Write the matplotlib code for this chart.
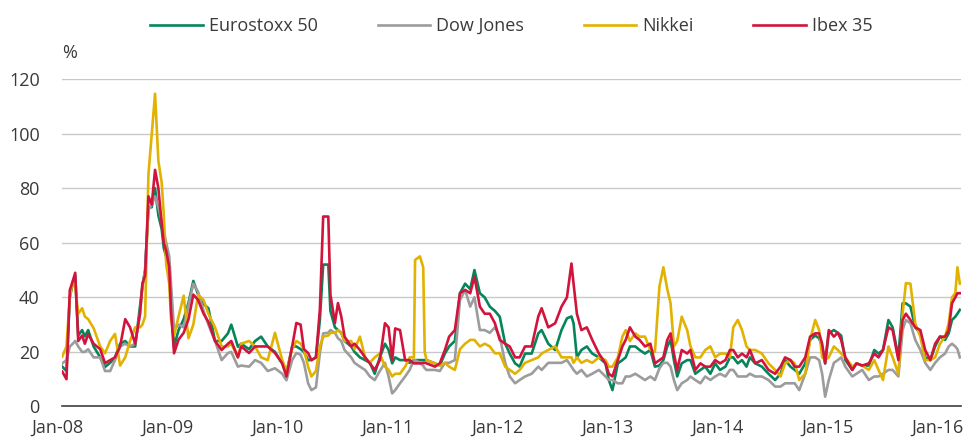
import matplotlib
matplotlib.use("Agg")
import matplotlib.pyplot as plt
import matplotlib.dates as mdates
import matplotlib.transforms as mtransforms
import pandas as pd

# approximate volatility readings (%) taken off the reference chart
dates = [
    # 2008
    '2008-01-02', '2008-01-16', '2008-01-27', '2008-02-06', '2008-02-14', '2008-02-24',
    '2008-03-08', '2008-03-17', '2008-03-28', '2008-04-15', '2008-05-07', '2008-05-23',
    '2008-06-09', '2008-06-25', '2008-07-12', '2008-07-29', '2008-08-14', '2008-08-31',
    '2008-09-16', '2008-09-24', '2008-10-03', '2008-10-14', '2008-10-25', '2008-11-05',
    '2008-11-16', '2008-11-27', '2008-12-04', '2008-12-12', '2008-12-22', '2008-12-28',
    # 2009
    '2009-01-07', '2009-01-22', '2009-02-08', '2009-02-24', '2009-03-12', '2009-03-28',
    '2009-04-15', '2009-05-01', '2009-05-23', '2009-06-14', '2009-07-05', '2009-07-16',
    '2009-08-07', '2009-08-18', '2009-09-13', '2009-10-03', '2009-10-23', '2009-11-14',
    '2009-12-08',
    # 2010
    '2010-01-01', '2010-01-15', '2010-02-03', '2010-02-17', '2010-03-03', '2010-03-14',
    '2010-03-28', '2010-04-08', '2010-04-23', '2010-05-06', '2010-05-17', '2010-06-03',
    '2010-06-10', '2010-06-25', '2010-07-05', '2010-07-16', '2010-07-27', '2010-08-18',
    '2010-08-29', '2010-09-16', '2010-10-03', '2010-10-19', '2010-11-04', '2010-11-21',
    '2010-12-08', '2010-12-20',
    # 2011
    '2011-01-01', '2011-01-11', '2011-01-27', '2011-02-13', '2011-02-28', '2011-03-14',
    '2011-03-18', '2011-04-03', '2011-04-14', '2011-04-19', '2011-04-25', '2011-05-23',
    '2011-06-08', '2011-06-25', '2011-07-09', '2011-07-28', '2011-08-14', '2011-08-31',
    '2011-09-17', '2011-10-01', '2011-10-19', '2011-11-04', '2011-11-21', '2011-12-08',
    '2011-12-24',
    # 2012
    '2012-01-11', '2012-01-26', '2012-02-13', '2012-02-28', '2012-03-17', '2012-04-08',
    '2012-04-30', '2012-05-11', '2012-06-02', '2012-06-25', '2012-07-16', '2012-08-03',
    '2012-08-18', '2012-08-25', '2012-09-05', '2012-09-20', '2012-10-08', '2012-10-26',
    '2012-11-17', '2012-12-09', '2012-12-20',
    # 2013
    '2013-01-01', '2013-01-19', '2013-02-03', '2013-02-14', '2013-02-28', '2013-03-18',
    '2013-04-01', '2013-04-19', '2013-05-07', '2013-05-22', '2013-06-06', '2013-06-19',
    '2013-07-02', '2013-07-13', '2013-07-24', '2013-08-04', '2013-08-19', '2013-09-06',
    '2013-09-17', '2013-10-03', '2013-10-20', '2013-11-05', '2013-11-22', '2013-12-08',
    '2013-12-24',
    # 2014
    '2014-01-11', '2014-01-26', '2014-02-06', '2014-02-21', '2014-03-07', '2014-03-22',
    '2014-04-02', '2014-04-20', '2014-05-12', '2014-06-03', '2014-06-25', '2014-07-13',
    '2014-07-28', '2014-08-15', '2014-08-29', '2014-09-13', '2014-10-03', '2014-10-19',
    '2014-11-05', '2014-11-18', '2014-11-28', '2014-12-08', '2014-12-20',
    # 2015
    '2015-01-06', '2015-01-19', '2015-01-30', '2015-02-13', '2015-03-08', '2015-03-22',
    '2015-04-10', '2015-05-02', '2015-05-20', '2015-06-03', '2015-06-18', '2015-07-06',
    '2015-07-20', '2015-08-08', '2015-08-22', '2015-09-02', '2015-09-17', '2015-10-03',
    '2015-10-20', '2015-11-05', '2015-11-22', '2015-12-08', '2015-12-24',
    # 2016
    '2016-01-10', '2016-01-22', '2016-02-02', '2016-02-13', '2016-02-20', '2016-02-28',
]

eurostoxx = [
    14.6, 13, 40, 45, 48, 26, 28, 25.7, 28, 22, 18, 14.5,
    16, 18, 23, 24, 22, 22, 36.6, 44, 50, 73, 73, 80,
    70, 65, 58, 55, 53, 38,
    22, 28, 32, 38, 46, 41, 37.5, 36, 24, 24, 26.8, 30,
    21.9, 23, 21, 24, 25.6, 22, 20,
    15.8, 12, 22, 22, 21, 20, 17, 17, 18, 31.7, 52, 52,
    35, 29, 28, 27, 24, 22, 20, 18, 17, 16, 12, 18,
    23, 20.7,
    15.8, 18, 17, 17, 16, 17, 17, 17, 17, 17, 17, 15.8,
    15, 19.4, 22, 24, 41.5, 45, 43, 50, 41.5, 40, 36.6, 35,
    32.9,
    23, 19.4, 15.8, 14.6, 19.4, 19.4, 26.8, 28, 23, 20.7, 28, 32.3,
    33, 30.5, 18, 20.7, 22, 19.4, 18, 15.8, 9.7,
    6, 15.8, 17, 18, 22, 22, 20.7, 19.4, 20.7, 14.6, 15, 17,
    22, 24.4, 17, 11, 15.8, 17, 17, 12, 13.4, 14.6, 12, 15.8,
    13.4,
    14.6, 18, 18, 15.8, 17, 14.6, 18, 15.8, 14.6, 12, 9.7, 12,
    17, 14.6, 13.4, 12, 15.8, 24.4, 26, 25, 22, 15.8, 26.8,
    28, 27, 26, 17, 13.4, 15.8, 15, 15, 20.7, 19.4, 20.7, 31.7,
    29, 18, 37.8, 37.8, 36.6, 29, 26.8, 18, 17, 22, 25.6,
    24.4, 26.8, 31.7, 32.9, 34, 35.4,
]

dow_jones = [
    15.8, 17, 22, 23, 24, 22, 20, 20, 21, 18, 18, 13,
    13, 17, 22, 23, 22, 23, 34, 44, 50, 72, 74, 77,
    73, 68, 64, 60, 55, 45,
    28, 30, 29, 37, 45, 42, 35, 30, 24, 17, 19.6, 20,
    14.6, 15, 14.6, 17, 16, 13, 14,
    12, 9.6, 17, 19.6, 19, 16, 8.5, 6, 7, 19.6, 26.8, 27,
    28, 27, 25, 24, 20.7, 18, 16, 14.6, 13.4, 11, 9.7, 13,
    16, 11,
    4.8, 6, 8.5, 11, 13.4, 17, 17, 16, 15, 14, 13.4, 13.4,
    13, 16, 16, 17, 39, 42.7, 36.6, 40, 28, 28, 27, 29,
    25.6,
    16, 11, 8.5, 9.7, 11, 12, 14.6, 13.4, 16, 16, 16, 17,
    14.6, 13.4, 12, 13.4, 11, 12, 13.4, 11, 9.7,
    9.7, 8.5, 8.5, 11, 11, 12, 11, 9.7, 11, 9.7, 14, 16,
    16, 14.6, 9.7, 6, 8.5, 9.7, 11, 9.7, 8.5, 11, 9.7, 11,
    12,
    11, 13.4, 13.4, 11, 11, 11, 12, 11, 11, 9.7, 7.3, 7.3,
    8.5, 8.5, 8.5, 6, 12, 18, 18, 17, 12, 3.6, 9.7,
    16, 17, 18, 14.6, 11, 12, 13.4, 9.7, 11, 11, 12, 13.4,
    13.4, 11, 28, 31.7, 30.5, 24.4, 20.7, 16, 13.4, 16, 18,
    19.4, 22, 23, 22, 21, 18,
]

nikkei = [
    18.3, 22, 40, 46, 44, 34, 36, 33, 32, 28.7, 22, 19.5,
    24, 26.6, 15, 18, 24, 29, 29, 30, 33, 85, 100, 114.6,
    90, 82, 70, 52, 45, 32,
    26, 33, 40.6, 25, 30, 41, 39, 34, 29, 22, 22, 23,
    18, 23, 24, 22, 18, 17, 27,
    17, 13, 21, 24, 23, 21, 14.6, 11, 13, 22, 25.6, 26,
    27, 27, 28, 27, 24, 24, 21, 25.6, 18, 16, 18, 19.4,
    14.6, 13.4,
    11, 12, 12, 14.6, 18, 18, 53.7, 55, 51, 20, 17, 15.8,
    15, 16, 14.6, 13.4, 21, 23, 24.4, 24.4, 22, 23, 22, 19.5,
    19.5,
    14.6, 13.4, 12, 13.4, 16, 17, 18, 19.4, 20.7, 22, 18, 18,
    18, 16, 18, 16, 17, 16, 18, 17, 14.6,
    14.6, 18, 25.6, 28, 24, 26.8, 25.6, 25.6, 20.7, 20, 44, 51,
    43, 37.8, 22, 24, 32.9, 28, 22, 18, 18, 20.7, 22, 18,
    19.4,
    19.4, 18, 29, 31.7, 28, 22, 20.7, 20.7, 19.4, 15.8, 13.4, 11,
    15.8, 17, 15.8, 9.7, 12, 24.4, 31.7, 28, 18, 17, 18,
    22, 20.7, 19.4, 18, 14.6, 15.8, 15, 13.4, 17, 13.4, 9.7, 22,
    18, 12, 34, 45.2, 45, 30.5, 25.6, 17, 17, 18, 23,
    25.6, 30.5, 40, 41.5, 51, 45,
]

ibex = [
    12.8, 10, 42.6, 46, 49, 24, 26, 23, 26.5, 23, 21, 15.9,
    17, 18, 22, 32, 29, 23, 34, 45, 48, 77, 74, 86.7,
    80, 67, 60, 57, 51, 35,
    19.5, 24.5, 27, 32, 41, 39, 34, 31, 24, 20.7, 23, 24,
    18, 22, 19.6, 22, 22, 22, 19.6,
    15.8, 11, 22, 30.6, 30, 21, 19.6, 17, 18, 35.5, 69.6, 69.6,
    41, 30.6, 37.9, 33, 25.6, 22, 23, 20.7, 18, 15.8, 13.4, 17,
    30.5, 29,
    17, 28.6, 28, 17, 17, 15.8, 15.8, 15.8, 16, 16, 15.8, 14.6,
    15.8, 20.7, 25.6, 28, 41.5, 42.7, 41.5, 47.6, 36.6, 34, 34, 30.5,
    24.4,
    23, 22, 18, 18, 22, 22, 33, 36, 29, 30.5, 36.6, 40,
    52.4, 45, 34, 28, 29, 24.4, 19.4, 15.8, 12,
    11, 17, 22, 24.4, 29, 25.6, 24.4, 22, 23, 15.8, 17, 18,
    24.4, 26.8, 19.4, 13.4, 20.7, 19.4, 20.7, 13.4, 15.8, 14.6, 14.6, 17,
    15.8,
    17, 20.7, 20.7, 18, 19.4, 18, 20.7, 15.8, 17, 13.4, 12, 14.6,
    18, 17, 14.6, 14.6, 18, 25.6, 26.8, 26.8, 23, 15.8, 28,
    25.6, 27, 24.4, 18, 13.4, 15.8, 15, 15.8, 19.4, 18, 20.7, 29,
    28, 17, 31.7, 34, 31.7, 29, 28, 20.7, 17, 23, 25.6,
    25.6, 28, 37.8, 40, 41.5, 41.5,
]

series_names = ['Eurostoxx 50', 'Dow Jones', 'Nikkei', 'Ibex 35']
colors = ['#07855a', '#9c9c9c', '#e2b200', '#d2143c']
y_ticks = [0, 20, 40, 60, 80, 100, 120]
x_ticks = ['2008-01-01', '2009-01-01', '2010-01-01', '2011-01-01', '2012-01-01',
           '2013-01-01', '2014-01-01', '2015-01-01', '2016-01-01']

plt.rcParams['font.family'] = ['Open Sans', 'DejaVu Sans']
text_color = '#3a3a3a'

x = pd.to_datetime(dates)

fig = plt.figure(figsize=(9.65, 4.43), dpi=100)
ax = fig.add_axes([0.0642, 0.0824, 0.9317, 0.7393])

for vals, name, col in zip([eurostoxx, dow_jones, nikkei, ibex], series_names, colors):
    ax.plot(x, vals, color=col, lw=1.9, label=name, solid_joinstyle='round')

ax.set_ylim(0, 120)
ax.set_xlim(pd.Timestamp('2008-01-01'), pd.Timestamp('2016-03-03'))
ax.set_yticks(y_ticks)
ax.set_xticks(pd.to_datetime(x_ticks))
ax.xaxis.set_major_formatter(mdates.DateFormatter('%b-%y'))

ax.grid(axis='y', color='#c8c8c8', lw=1.0)
ax.set_axisbelow(True)
for s in ['top', 'right', 'left']:
    ax.spines[s].set_visible(False)
ax.spines['bottom'].set_color('#404040')
ax.spines['bottom'].set_linewidth(1.2)

ax.tick_params(axis='y', length=0, pad=16, labelsize=13, colors=text_color)
ax.tick_params(axis='x', length=0, pad=9, labelsize=13, colors=text_color)

# date labels sit a few pixels left of their tick in the reference
shift = mtransforms.ScaledTranslation(-5 / 100, 0, fig.dpi_scale_trans)
for lbl in ax.get_xticklabels():
    lbl.set_transform(lbl.get_transform() + shift)

fig.text(62 / 965, 1 - 53 / 443, '%', ha='left', va='center', fontsize=13, color=text_color)

ax.legend(loc='center', bbox_to_anchor=(0.5, 1.162), ncol=4, frameon=False,
          fontsize=13, handlelength=2.9, handletextpad=0.35, columnspacing=3.3,
          labelcolor=text_color)

fig.savefig('out.png', dpi=100)
